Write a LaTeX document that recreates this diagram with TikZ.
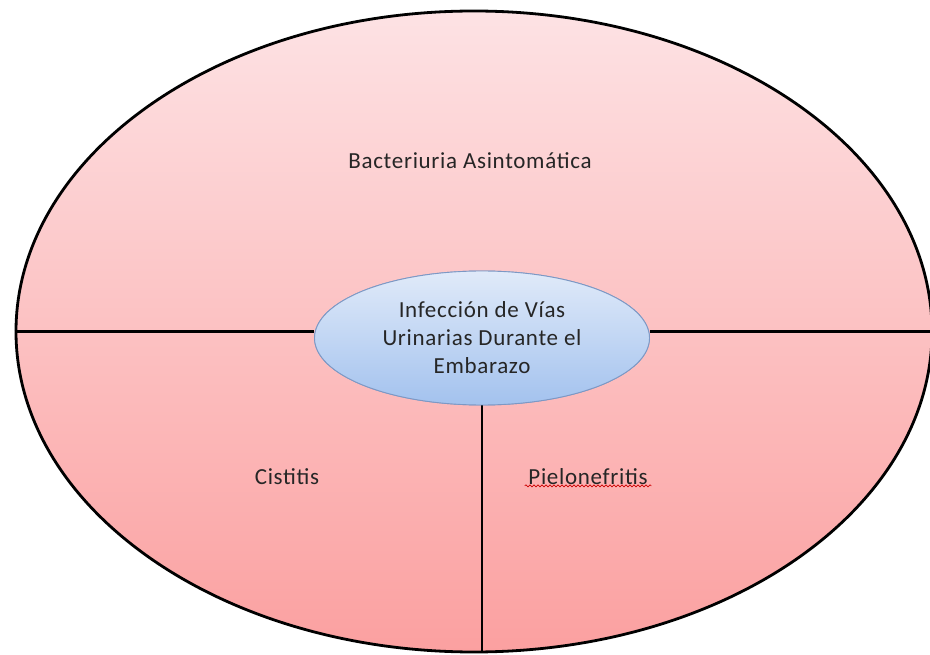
\documentclass[tikz,border=0pt]{standalone}
\usepackage{fontspec}
\setmainfont{Carlito}
\usetikzlibrary{shapes.geometric,positioning,decorations.pathmorphing}

\begin{document}
\begin{tikzpicture}
    [x=1pt, y=-1pt,
    thick,
    outer/.style={ellipse, draw=black, line width=2.8pt, inner sep=0pt,
        minimum width=916pt, minimum height=641pt,
        top color={rgb,255:red,253;green,226;blue,228},
        bottom color={rgb,255:red,251;green,160;blue,160}},
    inner/.style={ellipse, draw={rgb,255:red,125;green,152;blue,196}, line width=0.9pt,
        minimum width=335pt, minimum height=134pt, inner sep=0pt, align=center,
        top color={rgb,255:red,224;green,234;blue,249},
        bottom color={rgb,255:red,163;green,194;blue,238},
        font=\fontsize{23}{28}\selectfont\addfontfeature{LetterSpace=3}, text=black!85},
    label/.style={font=\fontsize{23}{26}\selectfont\addfontfeature{LetterSpace=3}, text=black!85},
    divider/.style={line width=2.8pt, black}]
    \useasboundingbox (0,0) rectangle (930,655);
        %% big ellipse
    \node[outer] (O) at (474,331.5) {};
        %% labels of the three parts
    \node[label] (B) at (470,161) {Bacteriuria Asintom\'atica};
    \node[label] (C) at (287,477) {Cistitis};
    \node[label] (P) at (588,477) {Pielonefritis};
        %% centre
    \node[inner] (I) at (482,338) {};

        \draw[divider] (O.west) to (O.west -| I.west);
        \draw[divider] (O.east -| I.east) to (O.east);
        \draw[divider] (I.south) to (I.south |- O.south);
        \draw[red!80!black, line width=0.7pt, decorate,
            decoration={snake, amplitude=1pt, segment length=4pt}]
            ([yshift=3pt]P.south west) to ([yshift=3pt]P.south east);

    \node[inner] (I) at (482,338) {Infecci\'on de V\'ias\\Urinarias Durante el\\Embarazo};
    \end{tikzpicture}
\end{document}
